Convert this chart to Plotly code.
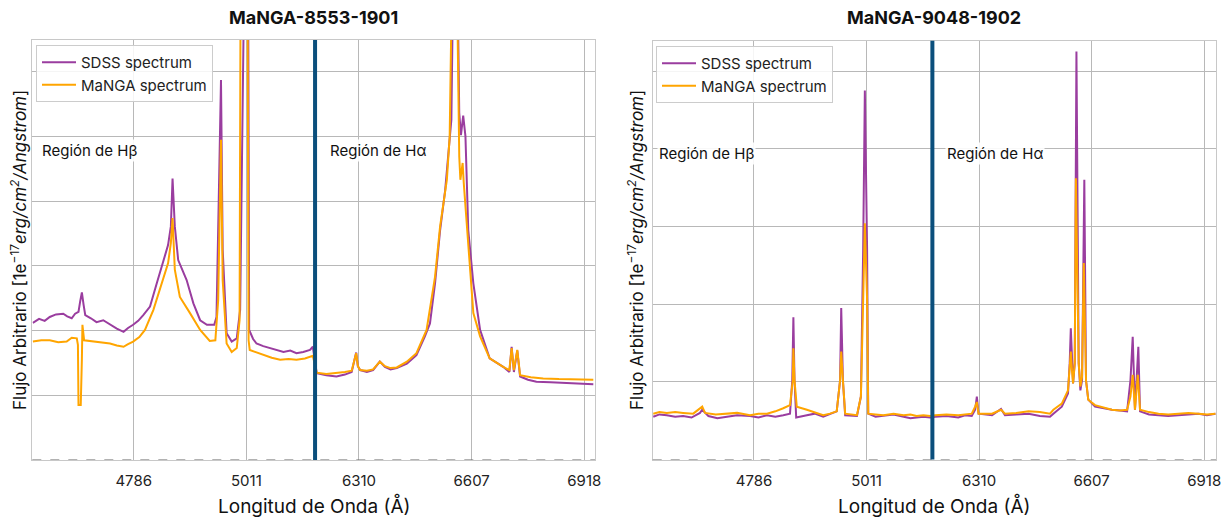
import plotly.graph_objects as go

# ---------------- data (spectral pixel index along concatenated Hβ + Hα windows) ----------------
tick_index = [180, 380, 580, 780, 980]
tick_labels = ["4786", "5011", "6310", "6607", "6918"]

# Panel 1: MaNGA-8553-1901
p1_sdss_x = [1, 12, 22, 31, 42, 55, 62, 70, 76, 82, 85, 88, 91, 94, 104, 114, 126, 138, 150, 162, 170, 179,
             188, 197, 209, 221, 233, 241, 246, 249, 253, 259,
             274, 286, 298, 310, 323, 327, 331, 335, 338, 345, 354, 363, 369, 377, 383, 385, 392, 398, 410,
             422, 434, 446, 458, 469, 481, 493, 498,
             505, 522, 540, 555, 567, 571, 575, 578, 582, 594, 605, 617, 626, 636, 647, 665, 682, 697, 706,
             715, 724, 733, 738, 744, 748, 754, 758, 761, 765, 769, 774, 783, 795, 812, 836, 847, 851, 855,
             861, 866, 880, 895, 920, 943, 970, 996]
p1_sdss_y = [21.2, 21.8, 21.5, 22.1, 22.5, 22.6, 22.2, 21.9, 22.6, 22.9, 24.5, 25.9, 24.0, 22.4, 21.9, 21.3,
             21.6, 20.9, 20.3, 19.8, 20.4, 20.9, 21.5, 22.4, 23.7, 27.3, 30.9, 33.2,
             36.1, 43.5, 36.1, 30.9, 27.8, 24.2, 21.6, 20.9, 20.9, 22.1, 40.2, 58.7, 32.5, 19.6, 18.3, 18.8,
             23.2, 80.0, 80.0, 20.1, 18.7, 18.0, 17.6, 17.3, 17.0, 16.7, 16.9, 16.5, 16.7, 17.0, 17.5,
             13.4, 13.1, 12.9, 13.2, 13.6, 15.1, 16.6, 14.5, 13.9, 13.6, 13.9, 15.2, 14.4, 14.0, 14.2, 14.9,
             16.2, 19.1, 21.1, 27.3, 35.5, 41.7, 46.9, 52.6, 80.0, 80.0, 53.6, 50.2, 53.2, 50.0, 35.5, 27.3,
             20.1, 15.7, 14.4, 13.6, 17.5, 13.6, 16.9, 12.9, 12.4, 12.1, 12.0, 11.9, 11.8, 11.7]
p1_manga_x = [1, 16, 31, 46, 61, 70, 79, 81, 82, 86, 88, 89, 92, 103, 114, 126, 138, 150, 162, 170, 179, 190,
              200, 215, 230, 241, 246, 249,
              253, 262, 280, 298, 315, 325, 330, 335, 338, 345, 354, 363, 368, 370, 382, 384, 386, 398, 410,
              425, 440, 455, 469, 484, 498,
              505, 522, 540, 555, 567, 571, 575, 578, 582, 594, 605, 617, 626, 636, 647, 665, 682, 700, 715,
              724, 736, 741, 746, 753, 758, 760, 764, 766, 774, 783, 795, 812, 836, 847, 851, 855, 861, 866,
              885, 907, 935, 966, 996]
p1_manga_y = [18.3, 18.5, 18.5, 18.2, 18.3, 18.9, 18.8, 17.8, 8.5, 8.5, 15.5, 20.9, 18.5, 18.4, 18.3, 18.1,
              18.0, 17.7, 17.5, 17.9, 18.3, 19.0, 20.1, 23.2, 27.3, 30.4, 33.5, 37.4,
              29.4, 25.2, 22.7, 20.1, 18.4, 18.5, 24.7, 49.5, 27.8, 18.0, 16.7, 17.3, 21.6, 80.0, 80.0, 18.5,
              17.0, 16.6, 16.2, 15.8, 15.5, 15.6, 15.5, 15.7, 16.1,
              13.5, 13.3, 13.4, 13.6, 13.8, 15.1, 16.5, 14.5, 13.9, 13.8, 14.0, 15.2, 14.5, 14.2, 14.3, 15.2,
              16.5, 20.1, 28.3, 36.1, 43.3, 50.0, 80.0, 80.0, 46.9, 43.3, 45.9, 42.8, 33.0, 22.7, 19.1, 15.7,
              14.4, 13.9, 17.3, 13.9, 17.0, 13.1, 12.8, 12.6, 12.5, 12.4, 12.4]

# Panel 2: MaNGA-9048-1902
p2_sdss_x = [1, 12, 25, 40, 54, 69, 84, 88, 99, 115, 132, 150, 173, 188, 203, 218, 232, 244, 248, 250, 252,
             255, 274, 288, 303, 315, 327, 333,
             335, 338, 342, 363, 370, 374, 377, 381, 383, 396, 410, 428, 446, 458, 469, 481, 493,
             502, 522, 543, 555, 567, 573, 576, 579, 603, 619, 626, 646, 668, 688, 706, 712, 727, 738, 741,
             743, 745, 747, 750, 753, 757, 760, 763, 767, 770, 774, 786, 800, 816, 830, 843, 849, 853, 857,
             863, 866, 882, 899, 916, 934, 952, 970, 985, 1000]
p2_sdss_y = [5.5, 5.8, 5.7, 5.5, 5.6, 5.4, 6.0, 6.4, 5.6, 5.3, 5.5, 5.7, 5.6, 5.4, 5.7, 5.5, 5.7, 5.9, 10.2,
             18.3, 10.2, 5.4, 5.7, 5.9, 5.5, 5.8, 6.2, 10.2,
             19.5, 10.2, 5.7, 5.6, 8.1, 27.0, 47.5, 27.0, 5.9, 5.5, 5.6, 5.8, 5.5, 5.3, 5.4, 5.5, 5.4,
             5.5, 5.6, 5.4, 5.7, 5.6, 6.4, 8.1, 5.9, 5.7, 6.5, 5.7, 5.8, 5.9, 5.6, 5.5, 5.9, 6.8, 8.5, 12.4,
             16.9, 12.4, 9.8, 12.4, 52.5, 12.4, 8.9, 10.2, 36.0, 10.2, 7.7, 6.8, 6.6, 6.4, 6.3, 6.2, 10.2,
             15.8, 6.4, 14.5, 6.2, 5.8, 5.7, 5.6, 5.7, 5.8, 5.9, 5.7, 5.9]
p2_manga_x = [1, 12, 25, 40, 54, 72, 88, 93, 112, 132, 150, 173, 188, 203, 218, 232, 244, 249, 250, 252, 256,
              274, 288, 303, 315, 327, 333, 335,
              338, 342, 363, 370, 374, 377, 381, 383, 396, 410, 428, 446, 458, 469, 481, 493,
              502, 522, 543, 555, 567, 573, 576, 579, 603, 619, 626, 646, 668, 688, 706, 712, 727, 738, 741,
              743, 745, 747, 750, 752, 757, 760, 763, 766, 770, 774, 786, 800, 816, 830, 843, 849, 853, 857,
              862, 866, 882, 899, 916, 934, 952, 970, 985, 1000]
p2_manga_y = [5.9, 6.1, 6.0, 6.1, 6.0, 5.9, 6.8, 6.0, 5.8, 5.9, 6.0, 5.7, 5.9, 5.9, 6.2, 6.6, 7.0, 10.2,
              14.3, 10.2, 6.8, 6.4, 6.1, 5.7, 5.9, 6.2, 10.2, 13.9,
              10.2, 5.9, 5.7, 8.1, 20.5, 30.4, 20.5, 5.9, 5.8, 5.7, 5.9, 5.7, 5.8, 5.6, 5.7, 5.6,
              5.7, 5.8, 5.7, 5.8, 5.9, 6.8, 7.4, 5.9, 5.9, 6.4, 5.9, 6.0, 6.2, 6.1, 5.9, 6.4, 7.2, 8.9, 11.9,
              13.9, 11.5, 9.8, 12.4, 36.2, 12.4, 9.4, 10.7, 25.3, 10.2, 7.7, 7.0, 6.7, 6.4, 6.3, 6.4, 8.1,
              10.9, 6.4, 10.9, 6.4, 6.1, 5.9, 5.8, 5.9, 6.0, 5.9, 5.8, 5.9]

titles = ["MaNGA-8553-1901", "MaNGA-9048-1902"]
region_labels = ["Región de Hβ", "Región de Hα"]

# ---------------- styling ----------------
FONT = "Inter"
PURPLE = "#9a3d9f"
ORANGE = "#ffa500"
BLUE = "#0b4f7c"
GRID = "#b8b8b8"
W, H = 1228, 521

fig = go.Figure()

fig.add_trace(go.Scatter(x=p1_sdss_x, y=p1_sdss_y, mode="lines", name="SDSS spectrum",
                         line=dict(color=PURPLE, width=2), xaxis="x", yaxis="y", legend="legend"))
fig.add_trace(go.Scatter(x=p1_manga_x, y=p1_manga_y, mode="lines", name="MaNGA spectrum",
                         line=dict(color=ORANGE, width=2), xaxis="x", yaxis="y", legend="legend"))
fig.add_trace(go.Scatter(x=p2_sdss_x, y=p2_sdss_y, mode="lines", name="SDSS spectrum",
                         line=dict(color=PURPLE, width=2), xaxis="x2", yaxis="y2", legend="legend2"))
fig.add_trace(go.Scatter(x=p2_manga_x, y=p2_manga_y, mode="lines", name="MaNGA spectrum",
                         line=dict(color=ORANGE, width=2), xaxis="x2", yaxis="y2", legend="legend2"))

def px(v):
    return v / W

def py(v):
    return 1 - v / H

xdom1 = [px(32.3), px(595)]
xdom2 = [px(652.7), px(1216)]
ydom1 = [py(460), py(40)]
ydom2 = [py(459.5), py(40.7)]

xcommon = dict(tickmode="array", tickvals=tick_index, ticktext=tick_labels, showgrid=True,
               gridcolor=GRID, gridwidth=1, zeroline=False, showline=True, mirror=True,
               linecolor="#c8c8c8", linewidth=1, ticks="outside", ticklen=7, automargin=False,
               tickcolor="rgba(0,0,0,0)", tickfont=dict(family=FONT, size=15, color="#222"))
ycommon = dict(showticklabels=False, showgrid=True, gridcolor=GRID, gridwidth=1, zeroline=False,
               showline=True, mirror=True, linecolor="#c8c8c8", linewidth=1, dtick=10, tick0=0,
               ticks="", automargin=False)

fig.update_layout(
    width=W, height=H, paper_bgcolor="white", plot_bgcolor="white",
    margin=dict(l=0, r=0, t=0, b=0, pad=0, autoexpand=False),
    xaxis=dict(domain=xdom1, range=[0, 999], anchor="y", **xcommon),
    yaxis=dict(domain=ydom1, range=[0, 64.9], anchor="x", **ycommon),
    xaxis2=dict(domain=xdom2, range=[0, 1001], anchor="y2", **xcommon),
    yaxis2=dict(domain=ydom2, range=[0, 53.9], anchor="x2", **ycommon),
    legend=dict(x=px(36), y=py(45), xanchor="left", yanchor="top",
                bgcolor="rgba(255,255,255,0.85)", bordercolor="#cccccc", borderwidth=1,
                font=dict(family=FONT, size=15, color="#222"), itemwidth=34, tracegroupgap=0),
    legend2=dict(x=px(656), y=py(46), xanchor="left", yanchor="top",
                 bgcolor="rgba(255,255,255,0.85)", bordercolor="#cccccc", borderwidth=1,
                 font=dict(family=FONT, size=15, color="#222"), itemwidth=34, tracegroupgap=0),
    showlegend=True,
)

shapes = []
for xr, yr, xb in [("x", "y", 502), ("x2", "y2", 497)]:
    shapes.append(dict(type="line", xref=xr + " domain", yref=yr, x0=0, x1=1, y0=0, y1=0,
                       line=dict(color="#666666", width=1.2, dash="dash"), layer="above"))
    shapes.append(dict(type="line", xref=xr, yref=yr + " domain", x0=xb, x1=xb, y0=0, y1=1,
                       line=dict(color=BLUE, width=4), layer="above"))
fig.update_layout(shapes=shapes)

ann = []
for t, cx in zip(titles, [313.6, 934.4]):
    ann.append(dict(text="<b>" + t + "</b>", x=px(cx), y=py(18), xref="paper", yref="paper",
                    showarrow=False, xanchor="center", yanchor="middle",
                    font=dict(family=FONT, size=18, color="#111")))
for cx in [313.6, 934.4]:
    ann.append(dict(text="Longitud de Onda (Å)", x=px(cx), y=py(505), xref="paper", yref="paper",
                    showarrow=False, xanchor="center", yanchor="middle",
                    font=dict(family=FONT, size=19, color="#111")))
ytitle = "Flujo Arbitrario [1e<sup>−17</sup><i>erg/cm<sup>2</sup>/Angstrom</i>]"
for cx in [18, 635]:
    ann.append(dict(text=ytitle, x=px(cx), y=py(250), xref="paper", yref="paper",
                    showarrow=False, xanchor="center", yanchor="middle", textangle=-90,
                    font=dict(family=FONT, size=17, color="#111")))
for xr, yr, xs, yv in [("x", "y", [14, 525], 47.9), ("x2", "y2", [8, 520], 39.4)]:
    for lbl, xv in zip(region_labels, xs):
        ann.append(dict(text=lbl, x=xv, y=yv, xref=xr, yref=yr, showarrow=False,
                        xanchor="left", yanchor="middle", bgcolor="rgba(255,255,255,0.9)",
                        font=dict(family=FONT, size=15, color="#111")))
fig.update_layout(annotations=ann)

fig.write_html("out.html", config={"displayModeBar": False},
               post_script="document.body.style.margin='0';document.body.style.overflow='hidden';")
